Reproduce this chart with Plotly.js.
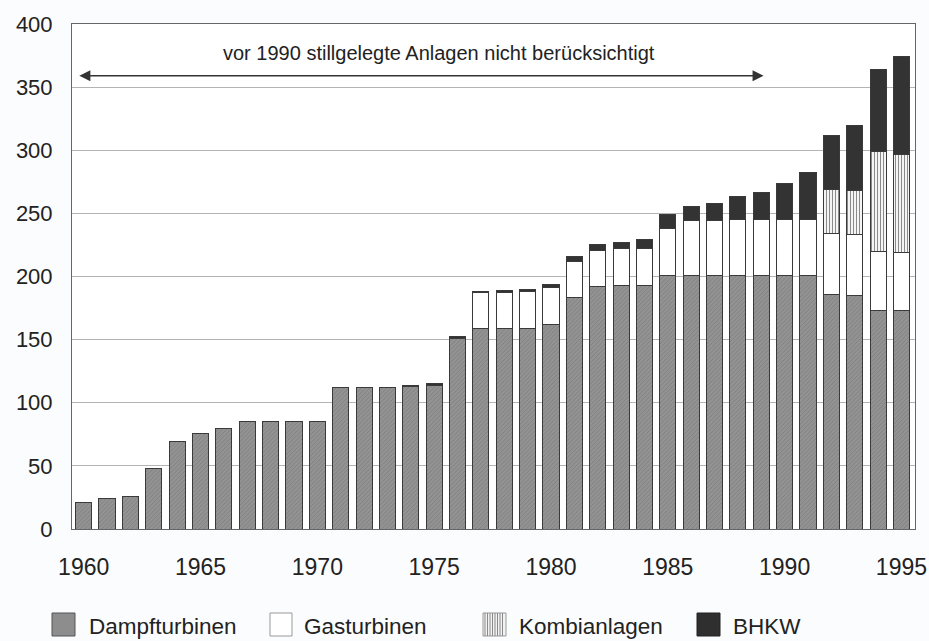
<!DOCTYPE html>
<html>
<head>
<meta charset="utf-8">
<script src="https://cdn.plot.ly/plotly-3.0.1.min.js"></script>
<style>
  html, body { margin: 0; padding: 0; background: #fbfcfd; }
  #chart { width: 929px; height: 641px; }
</style>
</head>
<body>
<div id="chart"></div>
<script>
const years = [1960,1961,1962,1963,1964,1965,1966,1967,1968,1969,1970,1971,1972,1973,1974,1975,1976,1977,1978,1979,1980,1981,1982,1983,1984,1985,1986,1987,1988,1989,1990,1991,1992,1993,1994,1995];
const dampfturbinen = [21,24,26,48,69,76,80,85,85,85,85,112,112,112,113,114,151,159,159,159,162,183,192,193,193,201,201,201,201,201,201,201,186,185,173,173];
const gasturbinen   = [0,0,0,0,0,0,0,0,0,0,0,0,0,0,0,0,0,28,28.5,29.5,29.5,29,28.5,29,29,37,43.5,43.5,44,44,44,44,48,48,47,46];
const kombianlagen  = [0,0,0,0,0,0,0,0,0,0,0,0,0,0,0,0,0,0,0,0,0,0,0,0,0,0,0,0,0,0,0,0,35,35,79,78];
const bhkw          = [0,0,0,0,0,0,0,0,0,0,0,0,0,0,1,1.5,1.5,1,1.5,1.5,2.5,3.5,4.5,5,7,11,11,13.5,18.5,21.5,29,37,43,52,65,77];
const seriesNames = ["Dampfturbinen","Gasturbinen","Kombianlagen","BHKW"];
const noteText = "vor 1990 stillgelegte Anlagen nicht berücksichtigt";

const FONT = '"Liberation Sans", Arial, sans-serif';
const outline = {color: '#3a3a3a', width: 1};

const traces = [
  {type:'bar', name: seriesNames[0], x: years, y: dampfturbinen,
   marker:{color:'#8d8d8d', line: outline,
     pattern:{shape:'/', fgcolor:'#7a7a7a', bgcolor:'#939393', size:3, solidity:0.25}}},
  {type:'bar', name: seriesNames[1], x: years, y: gasturbinen,
   marker:{color:'#ffffff', line: outline}},
  {type:'bar', name: seriesNames[2], x: years, y: kombianlagen,
   marker:{color:'#ffffff', line: outline,
     pattern:{shape:'|', fgcolor:'#8a8a8a', bgcolor:'#f4f4f4', size:3, solidity:0.35}}},
  {type:'bar', name: seriesNames[3], x: years, y: bhkw,
   marker:{color:'#333333', line: outline}}
];

// plot area geometry (pixels) for the hand-drawn legend below the chart
const M = {l: 72, r: 14, t: 24, b: 112};
const W = 929, H = 641;
const pw = W - M.l - M.r, ph = H - M.t - M.b;
const px2x = p => (p - M.l) / pw;
const py2y = p => (H - M.b - p) / ph;

const legendSpec = [
  {x0: 52,  x1: 75,  tx: 87,  fill: '#8d8d8d', line: '#555'},
  {x0: 270, x1: 292, tx: 302, fill: '#ffffff', line: '#999'},
  {x0: 483, x1: 506, tx: 517, fill: '#f2f2f2', line: '#999', stripes: true},
  {x0: 697, x1: 720, tx: 731, fill: '#2f2f2f', line: '#222'}
];
const legTop = 613, legBot = 636, legMid = 626;

const shapes = [];
const annotations = [
  {x: 1975.2, y: 377, xref: 'x', yref: 'y', text: noteText, showarrow: false,
   font: {family: FONT, size: 20, color: '#222'}},
  {x: 1989.1, y: 359, ax: 1959.75, ay: 359, xref: 'x', yref: 'y', axref: 'x', ayref: 'y',
   text: '', showarrow: true, arrowside: 'end+start', arrowhead: 2, arrowsize: 1.7,
   arrowwidth: 1.3, arrowcolor: '#333', standoff: 0, startstandoff: 0}
];
legendSpec.forEach((s, i) => {
  shapes.push({type: 'rect', xref: 'paper', yref: 'paper',
    x0: px2x(s.x0), x1: px2x(s.x1), y0: py2y(legBot), y1: py2y(legTop),
    fillcolor: s.fill, line: {color: s.line, width: 1}});
  if (s.stripes) {
    let path = '';
    for (let p = s.x0 + 2; p < s.x1 - 1; p += 2.5) {
      path += `M${px2x(p)},${py2y(legBot)} L${px2x(p)},${py2y(legTop)} `;
    }
    shapes.push({type: 'path', xref: 'paper', yref: 'paper', path: path,
      line: {color: '#8a8a8a', width: 1}});
  }
  annotations.push({xref: 'paper', yref: 'paper', x: px2x(s.tx), y: py2y(legMid),
    xanchor: 'left', yanchor: 'middle', text: seriesNames[i], showarrow: false,
    font: {family: FONT, size: 22.5, color: '#222'}});
});

const layout = {
  width: W, height: H,
  paper_bgcolor: '#fbfcfd', plot_bgcolor: '#ffffff',
  margin: M,
  barmode: 'stack', bargap: 0.31,
  font: {family: FONT, size: 20, color: '#222'},
  showlegend: false,
  xaxis: {range: [1959.5, 1995.58], tickmode: 'linear', tick0: 1960, dtick: 5,
          showgrid: false, zeroline: false, showline: true, mirror: true,
          linecolor: '#666', linewidth: 1, ticks: '', ticklabelstandoff: 17,
          tickfont: {family: FONT, size: 23, color: '#222'}},
  yaxis: {range: [0, 400], tickmode: 'linear', tick0: 0, dtick: 50,
          showgrid: true, gridcolor: '#b4b4b4', gridwidth: 1, zeroline: false,
          showline: true, mirror: true, linecolor: '#666', linewidth: 1,
          ticks: '', ticklabelstandoff: 14,
          tickfont: {family: FONT, size: 22, color: '#222'}},
  shapes: shapes,
  annotations: annotations
};

Plotly.newPlot('chart', traces, layout, {displayModeBar: false, staticPlot: true});
</script>
</body>
</html>
